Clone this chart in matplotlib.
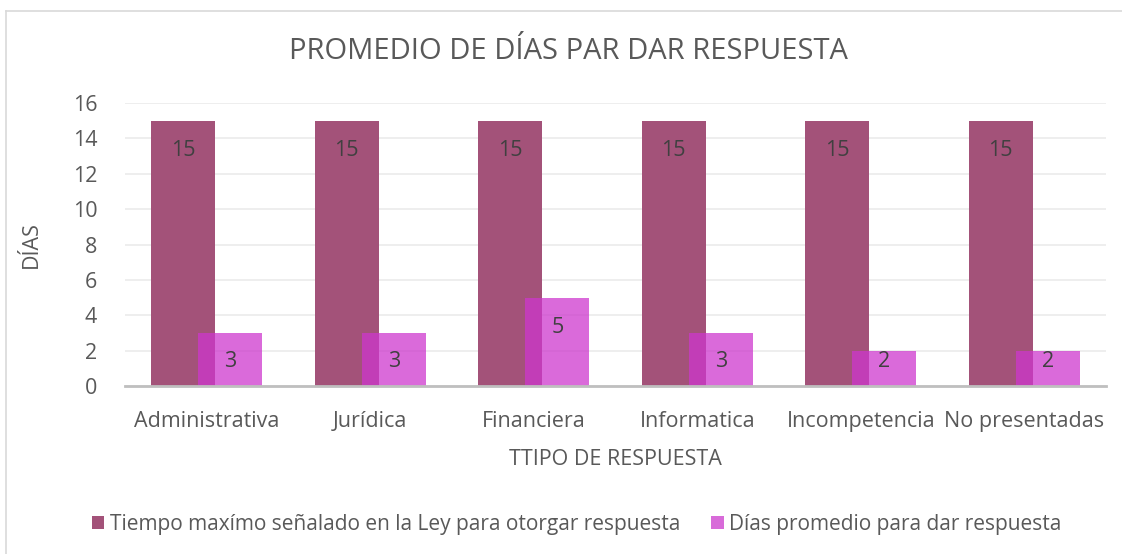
import matplotlib.pyplot as plt
import numpy as np
from matplotlib.lines import Line2D
from matplotlib.patches import Patch

plt.rcParams['font.family'] = ['Open Sans', 'DejaVu Sans']

# Data
categorias = ['Administrativa', 'Jurídica', 'Financiera', 'Informatica', 'Incompetencia', 'No presentadas']
tiempo_max = [15, 15, 15, 15, 15, 15]
dias_promedio = [3, 3, 5, 3, 2, 2]
serie_names = ['Tiempo maxímo señalado en la Ley para otorgar respuesta', 'Días promedio para dar respuesta']

col_dark = '#A35279'
col_light = '#CD36CD'
txt = '#595959'

fig = plt.figure(figsize=(11.22, 5.54), dpi=100)
ax = fig.add_axes([0.1114, 0.3032, 0.8743, 0.5109])

x = np.arange(len(categorias))
w = 0.39
off = 0.144
b1 = ax.bar(x - off, tiempo_max, w, color=col_dark, zorder=2)
b2 = ax.bar(x + off, dias_promedio, w, color=col_light, alpha=0.74, zorder=3)

# inside-end labels, kept inside the bar when the bar is short
for bars, vals in ((b1, tiempo_max), (b2, dias_promedio)):
    for r, v in zip(bars, vals):
        ax.text(r.get_x() + r.get_width() / 2, max(v - 1.68, 1.36), str(v),
                ha='center', va='center', fontsize=15.5, color='#404040', zorder=5)

ax.set_xlim(-0.5, len(categorias) - 0.5)
ax.set_ylim(0, 16)
ax.set_yticks(range(0, 17, 2))
ax.set_xticks(x)
ax.set_xticklabels(categorias)
ax.tick_params(axis='both', length=0, labelsize=15.5, labelcolor=txt)
ax.tick_params(axis='x', pad=18)
ax.tick_params(axis='y', pad=20)
ax.grid(axis='y', color='#EBEBEB', linewidth=1.2, zorder=0)
ax.set_axisbelow(True)
for s in ['top', 'right', 'left']:
    ax.spines[s].set_visible(False)
ax.spines['bottom'].set_color('#BFBFBF')
ax.spines['bottom'].set_linewidth(2)
ax.spines['bottom'].set_zorder(4)

ax.set_xlabel('TTIPO DE RESPUESTA', fontsize=15.5, color=txt, labelpad=12)
ax.set_ylabel('DÍAS', fontsize=15.5, color=txt, labelpad=22)

fig.text(0.507, 0.907, 'PROMEDIO DE DÍAS PAR DAR RESPUESTA', ha='center', va='center',
         fontsize=21, color=txt)

handles = [Patch(facecolor=col_dark), Patch(facecolor='#D86BD9')]
fig.legend(handles, serie_names, loc='center', bbox_to_anchor=(0.514, 0.054), ncol=2,
           frameon=False, fontsize=15, labelcolor=txt, handlelength=0.6, handleheight=0.6,
           handletextpad=0.25, columnspacing=1.5)

# chart border
fig.add_artist(Line2D([0.0055, 1.0], [0.980, 0.980], color='#D9D9D9', lw=1.2))
fig.add_artist(Line2D([0.0055, 0.0055], [0.0, 0.980], color='#D9D9D9', lw=1.2))

fig.savefig('out.png', dpi=100)
